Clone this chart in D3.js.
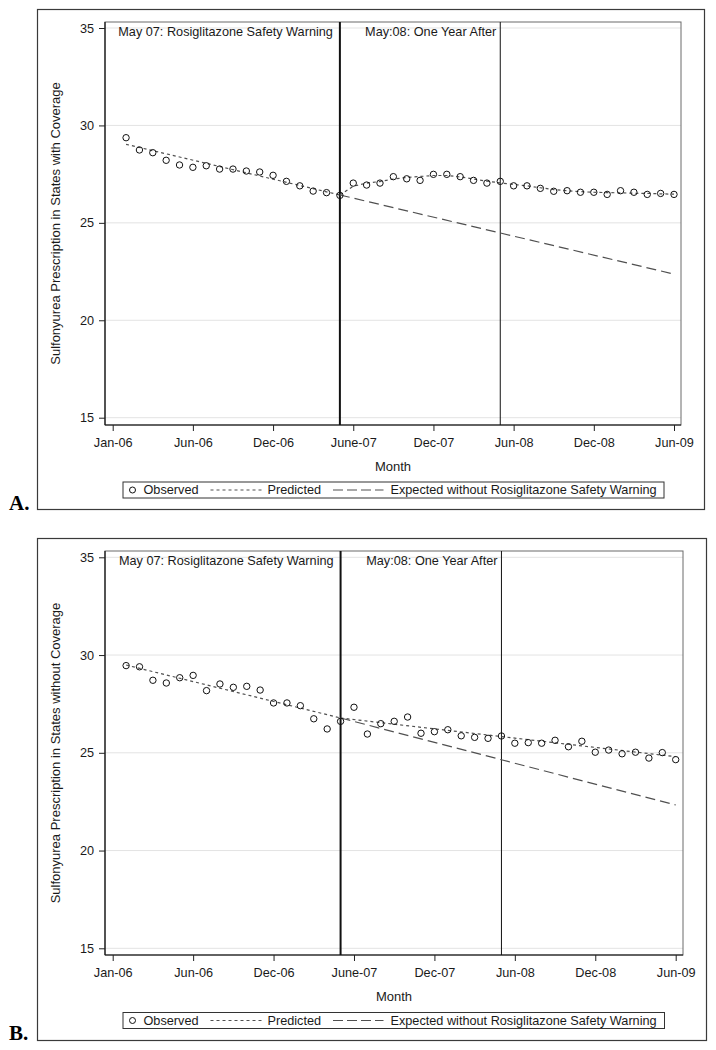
<!DOCTYPE html>
<html>
<head>
<meta charset="utf-8">
<script src="https://cdn.jsdelivr.net/npm/d3@7"></script>
<style>
  html, body { margin: 0; padding: 0; background: #ffffff; }
  svg { display: block; }
</style>
</head>
<body>
<svg id="chart" width="716" height="1050"></svg>
<script>
// ---------------- DATA ----------------
const monthIndex = d3.range(1, 43); // months 1..42
const tickMonths = [0, 6, 12, 18, 24, 30, 36, 42];
const tickLabels = ["Jan-06", "Jun-06", "Dec-06", "June-07", "Dec-07", "Jun-08", "Dec-08", "Jun-09"];
const yTicks = [15, 20, 25, 30, 35];
const warningMonth = 17;
const oneYearMonth = 29;
const annotations = ["May 07: Rosiglitazone Safety Warning", "May:08: One Year After"];
const legendLabels = ["Observed", "Predicted", "Expected without Rosiglitazone Safety Warning"];

// Panel A: States with Coverage
const observedA = [29.37, 28.74, 28.60, 28.21, 27.97, 27.85, 27.93, 27.76, 27.76, 27.66, 27.61, 27.44, 27.13, 26.90, 26.63, 26.55, 26.41,
                   27.04, 26.94, 27.04, 27.37, 27.26, 27.18, 27.49, 27.49, 27.37, 27.18, 27.04, 27.13, 26.90, 26.90, 26.77, 26.62, 26.65, 26.57, 26.57, 26.46, 26.65, 26.57, 26.46, 26.51, 26.46];
const predPreMonthsA = [1, 17];
const predPreA = [29.03, 26.43];
const predPostMonthsA = d3.range(17, 43);
const predPostA = [26.43, 26.88, 27.04, 27.12, 27.25, 27.33, 27.38, 27.43, 27.43, 27.36, 27.25, 27.14, 27.05, 26.97, 26.90, 26.80, 26.71, 26.65, 26.60, 26.57, 26.55, 26.54, 26.52, 26.51, 26.49, 26.47];
const expectedMonthsA = [17, 42];
const expectedA = [26.43, 22.37];

// Panel B: States without Coverage
const observedB = [29.46, 29.40, 28.71, 28.57, 28.84, 28.96, 28.18, 28.52, 28.35, 28.40, 28.21, 27.55, 27.55, 27.41, 26.74, 26.22, 26.61,
                   27.33, 25.96, 26.49, 26.61, 26.83, 26.00, 26.08, 26.18, 25.87, 25.79, 25.74, 25.86, 25.49, 25.52, 25.49, 25.64, 25.31, 25.59, 25.03, 25.14, 24.95, 25.03, 24.73, 25.01, 24.65];
const predPreMonthsB = [1, 17];
const predPreB = [29.49, 26.78];
const predPostMonthsB = [17, 42];
const predPostB = [26.78, 24.80];
const expectedMonthsB = [17, 42];
const expectedB = [26.78, 22.33];

// ---------------- DRAW ----------------
const SANS = "'Liberation Sans', Arial, sans-serif";
const SERIF = "'Liberation Serif', 'Times New Roman', serif";
const svg = d3.select("#chart");

function txt(sel, size) {
  return sel.style("font-family", SANS).style("font-size", size + "px").attr("fill", "#1a1a1a");
}

function drawPanel(cfg) {
  const g = svg.append("g");
  const x = d3.scaleLinear().domain([0, 42]).range([cfg.xJan, cfg.xJun09]);
  const y = d3.scaleLinear().domain([15, 35]).range([cfg.y15, cfg.y35]);
  const P = cfg.plot;

  // outer frame
  g.append("rect").attr("x", cfg.frame.x0 + 0.5).attr("y", cfg.frame.y0 + 0.5)
    .attr("width", cfg.frame.x1 - cfg.frame.x0).attr("height", cfg.frame.y1 - cfg.frame.y0)
    .attr("fill", "none").attr("stroke", "#3a3a3a").attr("stroke-width", 1.2);

  // gridlines
  g.append("g").selectAll("line").data(yTicks).join("line")
    .attr("x1", P.l).attr("x2", P.r)
    .attr("y1", d => y(d)).attr("y2", d => y(d))
    .attr("stroke", "#e3e3e3").attr("stroke-width", 1);

  // plot frame
  g.append("rect").attr("x", P.l).attr("y", P.t).attr("width", P.r - P.l).attr("height", P.b - P.t)
    .attr("fill", "none").attr("stroke", "#6a6a6a").attr("stroke-width", 1);
  g.append("line").attr("x1", P.l).attr("x2", P.l).attr("y1", P.t).attr("y2", P.b)
    .attr("stroke", "#111").attr("stroke-width", 1.2);
  g.append("line").attr("x1", P.l).attr("x2", P.r).attr("y1", P.b).attr("y2", P.b)
    .attr("stroke", "#111").attr("stroke-width", 1.2);

  // axes
  const xAxis = d3.axisBottom(x).tickValues(tickMonths)
    .tickFormat((d, i) => tickLabels[i]).tickSizeOuter(0).tickSize(6).tickPadding(7);
  const xa = g.append("g").attr("transform", `translate(0,${P.b})`).call(xAxis);
  xa.select(".domain").remove();
  xa.selectAll("line").attr("stroke", "#222");
  txt(xa.selectAll("text"), 12.7);

  const yAxis = d3.axisLeft(y).tickValues(yTicks).tickSizeOuter(0).tickSize(6).tickPadding(5);
  const ya = g.append("g").attr("transform", `translate(${P.l},0)`).call(yAxis);
  ya.select(".domain").remove();
  ya.selectAll("line").attr("stroke", "#222");
  txt(ya.selectAll("text"), 12.7);

  // axis titles
  txt(g.append("text").attr("transform", `translate(60,${(P.t + P.b) / 2}) rotate(-90)`)
    .attr("text-anchor", "middle"), 13).text(cfg.yLabel);
  txt(g.append("text").attr("x", (P.l + P.r) / 2).attr("y", P.b + 46)
    .attr("text-anchor", "middle"), 13).text("Month");

  // vertical event lines
  g.append("line").attr("x1", x(warningMonth)).attr("x2", x(warningMonth))
    .attr("y1", P.t).attr("y2", P.b).attr("stroke", "#111").attr("stroke-width", 2);
  g.append("line").attr("x1", x(oneYearMonth)).attr("x2", x(oneYearMonth))
    .attr("y1", P.t).attr("y2", P.b).attr("stroke", "#111").attr("stroke-width", 1);

  txt(g.append("text").attr("x", x(warningMonth) - 7).attr("y", P.t + 14)
    .attr("text-anchor", "end"), 12.7).text(annotations[0]);
  txt(g.append("text").attr("x", x(oneYearMonth) - 4).attr("y", P.t + 14)
    .attr("text-anchor", "end"), 12.7).text(annotations[1]);

  const line = d3.line().x(d => x(d[0])).y(d => y(d[1]));

  // expected (long dash)
  g.append("path").datum(d3.zip(cfg.expMonths, cfg.exp)).attr("d", line)
    .attr("fill", "none").attr("stroke", "#505050").attr("stroke-width", 1.2)
    .attr("stroke-dasharray", "10,5");
  // predicted (short dash)
  g.append("path").datum(d3.zip(cfg.preMonths, cfg.pre)).attr("d", line)
    .attr("fill", "none").attr("stroke", "#505050").attr("stroke-width", 1.2)
    .attr("stroke-dasharray", "3,3");
  g.append("path").datum(d3.zip(cfg.postMonths, cfg.post)).attr("d", line)
    .attr("fill", "none").attr("stroke", "#505050").attr("stroke-width", 1.2)
    .attr("stroke-dasharray", "3,3");

  // observed circles
  g.append("g").selectAll("circle").data(d3.zip(monthIndex, cfg.obs)).join("circle")
    .attr("cx", d => x(d[0])).attr("cy", d => y(d[1])).attr("r", 3.2)
    .attr("fill", "none").attr("stroke", "#111").attr("stroke-width", 1);

  // legend
  const L = cfg.legend;
  const lg = g.append("g").attr("transform", `translate(${L.x0},${L.y0})`);
  lg.append("rect").attr("x", 0.5).attr("y", 0.5).attr("width", L.x1 - L.x0).attr("height", 16)
    .attr("fill", "#fff").attr("stroke", "#333").attr("stroke-width", 1);
  lg.append("circle").attr("cx", 10).attr("cy", 8.5).attr("r", 3)
    .attr("fill", "none").attr("stroke", "#111");
  txt(lg.append("text").attr("x", 21).attr("y", 12.8), 12.7).text(legendLabels[0]);
  lg.append("line").attr("x1", 88).attr("x2", 139).attr("y1", 8.5).attr("y2", 8.5)
    .attr("stroke", "#505050").attr("stroke-width", 1.2).attr("stroke-dasharray", "3,3");
  txt(lg.append("text").attr("x", 145).attr("y", 12.8), 12.7).text(legendLabels[1]);
  lg.append("line").attr("x1", 210.5).attr("x2", 261).attr("y1", 8.5).attr("y2", 8.5)
    .attr("stroke", "#505050").attr("stroke-width", 1.2).attr("stroke-dasharray", "10,4");
  txt(lg.append("text").attr("x", 268).attr("y", 12.8), 12.7).text(legendLabels[2]);

  // panel letter
  svg.append("text").attr("x", 9).attr("y", cfg.letterY)
    .style("font-family", SERIF).style("font-weight", "bold").style("font-size", "21px")
    .attr("fill", "#000").text(cfg.letter);
}

drawPanel({
  frame: { x0: 37, y0: 9, x1: 704, y1: 509 },
  plot: { l: 105, t: 22, r: 681, b: 425 },
  xJan: 112.7, xJun09: 674, y15: 417.7, y35: 28,
  yLabel: "Sulfonyurea Prescription in States with Coverage",
  obs: observedA, preMonths: predPreMonthsA, pre: predPreA,
  postMonths: predPostMonthsA, post: predPostA,
  expMonths: expectedMonthsA, exp: expectedA,
  legend: { x0: 122.5, y0: 481.5, x1: 663.5 },
  letter: "A.", letterY: 510
});

drawPanel({
  frame: { x0: 37, y0: 538, x1: 706, y1: 1040 },
  plot: { l: 105, t: 551, r: 683, b: 955 },
  xJan: 112.7, xJun09: 675.7, y15: 948.3, y35: 557.3,
  yLabel: "Sulfonyurea Prescription in States without Coverage",
  obs: observedB, preMonths: predPreMonthsB, pre: predPreB,
  postMonths: predPostMonthsB, post: predPostB,
  expMonths: expectedMonthsB, exp: expectedB,
  legend: { x0: 122.5, y0: 1012, x1: 664 },
  letter: "B.", letterY: 1040
});
</script>
</body>
</html>
